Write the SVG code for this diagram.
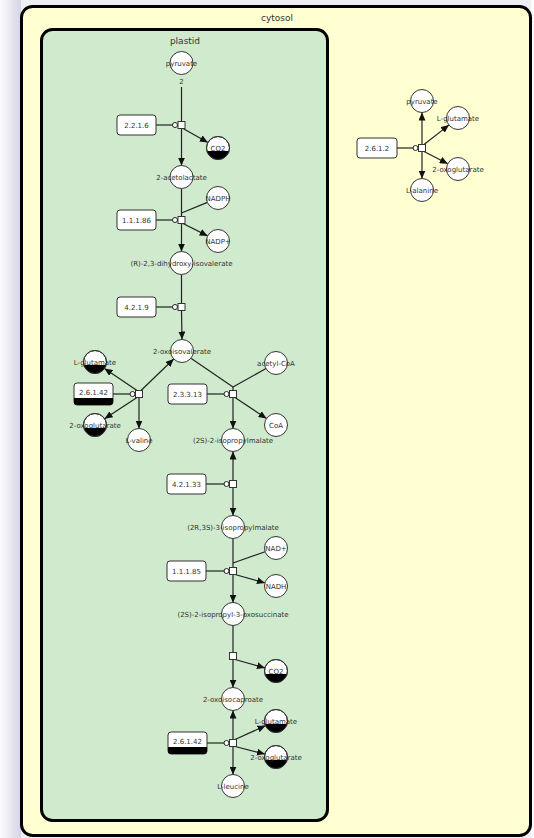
<svg xmlns="http://www.w3.org/2000/svg" width="534" height="838" viewBox="0 0 534 838">
  <defs>
    <linearGradient id="shadeLeft" x1="0" y1="0" x2="1" y2="0">
      <stop offset="0" stop-color="#fbfbfd"/>
      <stop offset="1" stop-color="#d4d4e6"/>
    </linearGradient>
    <marker id="arrow" viewBox="0 0 8 7" refX="8" refY="3.5" markerWidth="8" markerHeight="7" markerUnits="userSpaceOnUse" orient="auto">
      <path d="M0,0 L8,3.5 L0,7 Z" fill="#111"/>
    </marker>
    <style>
      .compartment { stroke: #000; stroke-width: 3; }
      .clabel { font-family: "DejaVu Sans", sans-serif; font-size: 9px; fill: #333; text-anchor: middle; }
      .metab { fill: #fff; stroke: #333; stroke-width: 1; }
      .clone { fill: #000; }
      .label { font-family: "DejaVu Sans", sans-serif; font-size: 7px; fill: #333; text-anchor: middle; }
      .enzyme { fill: #fff; stroke: #333; stroke-width: 1; }
      .process { fill: #fff; stroke: #333; stroke-width: 1; }
      .edge { fill: none; stroke: #222; stroke-width: 1.2; }
      .arrowed { marker-end: url(#arrow); }
      .catal { fill: #fff; stroke: #222; stroke-width: 1; }
    </style>
  </defs>

  <!-- page background with soft shading on the left -->
  <rect x="0" y="0" width="534" height="838" fill="#eeeef3"/>
  <rect x="0" y="0" width="21" height="838" fill="url(#shadeLeft)"/>
  <rect x="531" y="0" width="3" height="838" fill="#fafafa"/>

  <!-- compartments -->
  <g id="cytosol">
    <rect class="compartment" x="21.5" y="6.5" width="509" height="829" rx="11" fill="#ffffd2"/>
    <text class="clabel" x="277" y="21">cytosol</text>
  </g>
  <g id="plastid">
    <rect class="compartment" x="41.5" y="29.5" width="286" height="791" rx="11" fill="#cfeacc"/>
    <text class="clabel" x="185" y="44">plastid</text>
  </g>

  <!-- connectors -->
  <g id="connectors">
    <!-- 2.2.1.6 -->
    <line class="edge" x1="181.5" y1="87" x2="181.5" y2="121.5"/>
    <line class="edge arrowed" x1="181.5" y1="128.5" x2="181.5" y2="165.5"/>
    <line class="edge arrowed" x1="183" y1="128.5" x2="207.9" y2="142.4"/>
    <line class="edge" x1="156" y1="125" x2="178" y2="125"/>
    <!-- 1.1.1.86 -->
    <line class="edge" x1="181.5" y1="188.5" x2="181.5" y2="216.5"/>
    <line class="edge" x1="207.4" y1="202.4" x2="181.5" y2="213"/>
    <line class="edge arrowed" x1="183" y1="223.5" x2="207.7" y2="235.9"/>
    <line class="edge arrowed" x1="181.5" y1="223.5" x2="181.5" y2="251.5"/>
    <line class="edge" x1="156" y1="220" x2="178" y2="220"/>
    <!-- 4.2.1.9 -->
    <line class="edge" x1="181.5" y1="274.5" x2="181.5" y2="303.5"/>
    <line class="edge arrowed" x1="181.5" y1="310.5" x2="182" y2="339.5"/>
    <line class="edge" x1="156" y1="307" x2="178" y2="307"/>
    <!-- 2.6.1.42 (valine) -->
    <line class="edge arrowed" x1="141" y1="390.5" x2="173.7" y2="359"/>
    <line class="edge arrowed" x1="137" y1="390.5" x2="104.5" y2="368.5"/>
    <line class="edge arrowed" x1="137" y1="397.5" x2="104.6" y2="418.7"/>
    <line class="edge arrowed" x1="139" y1="397.5" x2="139" y2="428.5"/>
    <line class="edge" x1="113" y1="394" x2="135.5" y2="394"/>
    <!-- 2.3.3.13 -->
    <line class="edge" x1="191.3" y1="358.5" x2="233" y2="387"/>
    <line class="edge" x1="266" y1="368.6" x2="233" y2="387"/>
    <line class="edge" x1="233" y1="387" x2="233" y2="390.5"/>
    <line class="edge arrowed" x1="233" y1="397.5" x2="233" y2="428.5"/>
    <line class="edge arrowed" x1="235" y1="397.5" x2="266.5" y2="418.6"/>
    <line class="edge" x1="207" y1="394" x2="229.5" y2="394"/>
    <!-- 4.2.1.33 -->
    <line class="edge arrowed" x1="233" y1="480.5" x2="233" y2="451.5"/>
    <line class="edge arrowed" x1="233" y1="487.5" x2="233" y2="515.5"/>
    <line class="edge" x1="206" y1="484" x2="229.5" y2="484"/>
    <!-- 1.1.1.85 -->
    <line class="edge" x1="233" y1="538.5" x2="233" y2="567.5"/>
    <line class="edge" x1="265.1" y1="551.8" x2="233" y2="563"/>
    <line class="edge arrowed" x1="235" y1="574.5" x2="264.9" y2="582.9"/>
    <line class="edge arrowed" x1="233" y1="574.5" x2="233" y2="602.5"/>
    <line class="edge" x1="206" y1="571" x2="229.5" y2="571"/>
    <!-- spontaneous decarboxylation -->
    <line class="edge" x1="233" y1="625.5" x2="233" y2="652.5"/>
    <line class="edge arrowed" x1="235" y1="659.5" x2="264.9" y2="667.9"/>
    <line class="edge arrowed" x1="233" y1="659.5" x2="233" y2="687.5"/>
    <!-- 2.6.1.42 (leucine) -->
    <line class="edge arrowed" x1="233" y1="739.5" x2="233" y2="710.5"/>
    <line class="edge arrowed" x1="235" y1="739.5" x2="265.5" y2="725.7"/>
    <line class="edge arrowed" x1="235" y1="746.5" x2="264.9" y2="754.1"/>
    <line class="edge arrowed" x1="233" y1="746.5" x2="233" y2="774.5"/>
    <line class="edge" x1="207" y1="743" x2="229.5" y2="743"/>
    <!-- 2.6.1.2 -->
    <line class="edge arrowed" x1="422" y1="144.5" x2="422" y2="112.5"/>
    <line class="edge arrowed" x1="424" y1="144.5" x2="448.9" y2="125.1"/>
    <line class="edge arrowed" x1="424" y1="151.5" x2="447.8" y2="163.7"/>
    <line class="edge arrowed" x1="422" y1="151.5" x2="422" y2="178.5"/>
    <line class="edge" x1="397" y1="148" x2="418.5" y2="148"/>
    <!-- catalysis heads -->
    <circle class="catal" cx="175" cy="125" r="2.5"/>
    <circle class="catal" cx="175" cy="220" r="2.5"/>
    <circle class="catal" cx="175" cy="307" r="2.5"/>
    <circle class="catal" cx="132.5" cy="394" r="2.5"/>
    <circle class="catal" cx="226.5" cy="394" r="2.5"/>
    <circle class="catal" cx="226.5" cy="484" r="2.5"/>
    <circle class="catal" cx="226.5" cy="571" r="2.5"/>
    <circle class="catal" cx="226.5" cy="743" r="2.5"/>
    <circle class="catal" cx="415.5" cy="148" r="2.5"/>
  </g>

  <!-- process nodes -->
  <g id="process-2.2.1.6"><rect class="process" x="178" y="121.5" width="7" height="7"/></g>
  <g id="process-1.1.1.86"><rect class="process" x="178" y="216.5" width="7" height="7"/></g>
  <g id="process-4.2.1.9"><rect class="process" x="178" y="303.5" width="7" height="7"/></g>
  <g id="process-2.6.1.42-val"><rect class="process" x="135.5" y="390.5" width="7" height="7"/></g>
  <g id="process-2.3.3.13"><rect class="process" x="229.5" y="390.5" width="7" height="7"/></g>
  <g id="process-4.2.1.33"><rect class="process" x="229.5" y="480.5" width="7" height="7"/></g>
  <g id="process-1.1.1.85"><rect class="process" x="229.5" y="567.5" width="7" height="7"/></g>
  <g id="process-decarb"><rect class="process" x="229.5" y="652.5" width="7" height="7"/></g>
  <g id="process-2.6.1.42-leu"><rect class="process" x="229.5" y="739.5" width="7" height="7"/></g>
  <g id="process-2.6.1.2"><rect class="process" x="418.5" y="144.5" width="7" height="7"/></g>

  <!-- enzymes -->
  <g id="enz-2.2.1.6"><rect class="enzyme" x="117" y="115" width="39" height="20" rx="3"/><text class="label" x="136.5" y="127.5">2.2.1.6</text></g>
  <g id="enz-1.1.1.86"><rect class="enzyme" x="117" y="210" width="39" height="20" rx="3"/><text class="label" x="136.5" y="222.5">1.1.1.86</text></g>
  <g id="enz-4.2.1.9"><rect class="enzyme" x="117" y="297" width="39" height="20" rx="3"/><text class="label" x="136.5" y="309.5">4.2.1.9</text></g>
  <g id="enz-2.6.1.42-val">
    <rect class="enzyme" x="74" y="383" width="39" height="22" rx="3"/>
    <path class="clone" d="M74,398 H113 V402 A3,3 0 0 1 110,405 H77 A3,3 0 0 1 74,402 Z"/>
    <text class="label" x="93.5" y="395">2.6.1.42</text>
  </g>
  <g id="enz-2.3.3.13"><rect class="enzyme" x="168" y="384" width="39" height="20" rx="3"/><text class="label" x="187.5" y="396.5">2.3.3.13</text></g>
  <g id="enz-4.2.1.33"><rect class="enzyme" x="167" y="474" width="39" height="20" rx="3"/><text class="label" x="186.5" y="486.5">4.2.1.33</text></g>
  <g id="enz-1.1.1.85"><rect class="enzyme" x="167" y="561" width="39" height="20" rx="3"/><text class="label" x="186.5" y="573.5">1.1.1.85</text></g>
  <g id="enz-2.6.1.42-leu">
    <rect class="enzyme" x="168" y="732" width="39" height="22" rx="3"/>
    <path class="clone" d="M168,747 H207 V751 A3,3 0 0 1 204,754 H171 A3,3 0 0 1 168,751 Z"/>
    <text class="label" x="187.5" y="744">2.6.1.42</text>
  </g>
  <g id="enz-2.6.1.2"><rect class="enzyme" x="357" y="138" width="40" height="20" rx="3"/><text class="label" x="377" y="150.5">2.6.1.2</text></g>

  <!-- metabolites: plastid -->
  <g id="pyruvate-p"><circle class="metab" cx="181.5" cy="63" r="11.5"/><text class="label" x="181.5" y="65.5">pyruvate</text><text class="label" x="181.5" y="84">2</text></g>
  <g id="co2-1"><circle class="metab" cx="218" cy="148" r="11.5"/><path class="clone" d="M206.9,151 A11.5,11.5 0 0 0 229.1,151 Z"/><circle cx="218" cy="148" r="11.5" fill="none" stroke="#333"/><text class="label" x="218" y="150.5">CO2</text></g>
  <g id="acetolactate"><circle class="metab" cx="181.5" cy="177" r="11.5"/><text class="label" x="181.5" y="179.5">2-acetolactate</text></g>
  <g id="nadph"><circle class="metab" cx="218" cy="198" r="11.5"/><text class="label" x="218" y="200.5">NADPH</text></g>
  <g id="nadp"><circle class="metab" cx="218" cy="241" r="11.5"/><text class="label" x="218" y="243.5">NADP+</text></g>
  <g id="dihydroxy-isovalerate"><circle class="metab" cx="181.5" cy="263" r="11.5"/><text class="label" x="181.5" y="265.5">(R)-2,3-dihydroxy-isovalerate</text></g>
  <g id="oxoisovalerate"><circle class="metab" cx="182" cy="351" r="11.5"/><text class="label" x="182" y="353.5">2-oxoisovalerate</text></g>
  <g id="glutamate-1"><circle class="metab" cx="95" cy="362" r="11.5"/><path class="clone" d="M83.9,365 A11.5,11.5 0 0 0 106.1,365 Z"/><circle cx="95" cy="362" r="11.5" fill="none" stroke="#333"/><text class="label" x="95" y="364.5">L-glutamate</text></g>
  <g id="oxoglutarate-1"><circle class="metab" cx="95" cy="425" r="11.5"/><path class="clone" d="M83.9,428 A11.5,11.5 0 0 0 106.1,428 Z"/><circle cx="95" cy="425" r="11.5" fill="none" stroke="#333"/><text class="label" x="95" y="427.5">2-oxoglutarate</text></g>
  <g id="valine"><circle class="metab" cx="139" cy="440" r="11.5"/><text class="label" x="139" y="442.5">L-valine</text></g>
  <g id="acetyl-coa"><circle class="metab" cx="276" cy="363" r="11.5"/><text class="label" x="276" y="365.5">acetyl-CoA</text></g>
  <g id="coa"><circle class="metab" cx="276" cy="425" r="11.5"/><text class="label" x="276" y="427.5">CoA</text></g>
  <g id="isopropylmalate-2s"><circle class="metab" cx="233" cy="440" r="11.5"/><text class="label" x="233" y="442.5">(2S)-2-isopropylmalate</text></g>
  <g id="isopropylmalate-2r3s"><circle class="metab" cx="233" cy="527" r="11.5"/><text class="label" x="233" y="529.5">(2R,3S)-3-isopropylmalate</text></g>
  <g id="nad"><circle class="metab" cx="276" cy="548" r="11.5"/><text class="label" x="276" y="550.5">NAD+</text></g>
  <g id="nadh"><circle class="metab" cx="276" cy="586" r="11.5"/><text class="label" x="276" y="588.5">NADH</text></g>
  <g id="oxosuccinate"><circle class="metab" cx="233" cy="614" r="11.5"/><text class="label" x="233" y="616.5">(2S)-2-isopropyl-3-oxosuccinate</text></g>
  <g id="co2-2"><circle class="metab" cx="276" cy="671" r="11.5"/><path class="clone" d="M264.9,674 A11.5,11.5 0 0 0 287.1,674 Z"/><circle cx="276" cy="671" r="11.5" fill="none" stroke="#333"/><text class="label" x="276" y="673.5">CO2</text></g>
  <g id="oxoisocaproate"><circle class="metab" cx="233" cy="699" r="11.5"/><text class="label" x="233" y="701.5">2-oxoisocaproate</text></g>
  <g id="glutamate-2"><circle class="metab" cx="276" cy="721" r="11.5"/><path class="clone" d="M264.9,724 A11.5,11.5 0 0 0 287.1,724 Z"/><circle cx="276" cy="721" r="11.5" fill="none" stroke="#333"/><text class="label" x="276" y="723.5">L-glutamate</text></g>
  <g id="oxoglutarate-2"><circle class="metab" cx="276" cy="757" r="11.5"/><path class="clone" d="M264.9,760 A11.5,11.5 0 0 0 287.1,760 Z"/><circle cx="276" cy="757" r="11.5" fill="none" stroke="#333"/><text class="label" x="276" y="759.5">2-oxoglutarate</text></g>
  <g id="leucine"><circle class="metab" cx="233" cy="786" r="11.5"/><text class="label" x="233" y="788.5">L-leucine</text></g>

  <!-- metabolites: cytosol -->
  <g id="pyruvate-c"><circle class="metab" cx="422" cy="101" r="11.5"/><text class="label" x="422" y="103.5">pyruvate</text></g>
  <g id="glutamate-c"><circle class="metab" cx="458" cy="118" r="11.5"/><text class="label" x="458" y="120.5">L-glutamate</text></g>
  <g id="oxoglutarate-c"><circle class="metab" cx="458" cy="169" r="11.5"/><text class="label" x="458" y="171.5">2-oxoglutarate</text></g>
  <g id="alanine"><circle class="metab" cx="422" cy="190" r="11.5"/><text class="label" x="422" y="192.5">L-alanine</text></g>
</svg>
